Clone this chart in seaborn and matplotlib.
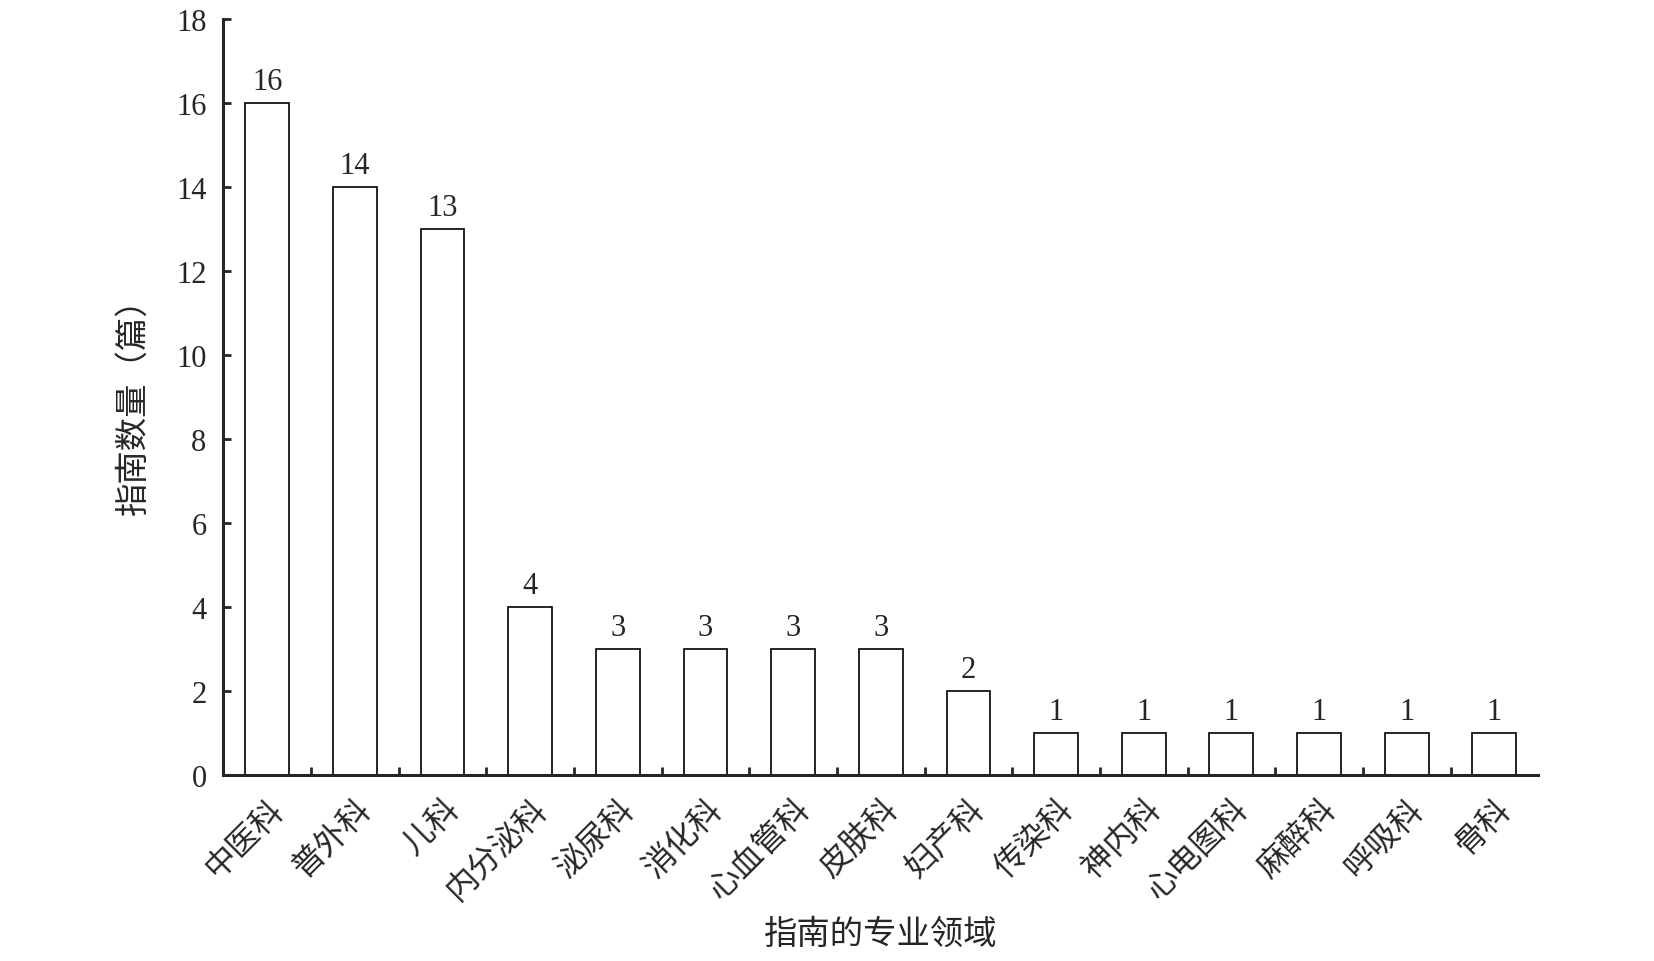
import pandas as pd
import numpy as np
import seaborn as sns
import matplotlib.pyplot as plt

departments = ['中医科', '普外科', '儿科', '内分泌科', '泌尿科', '消化科', '心血管科', '皮肤科',
               '妇产科', '传染科', '神内科', '心电图科', '麻醉科', '呼吸科', '骨科']
counts = [16, 14, 13, 4, 3, 3, 3, 3, 2, 1, 1, 1, 1, 1, 1]
y_ticks = [0, 2, 4, 6, 8, 10, 12, 14, 16, 18]

sns.set_style('ticks')
plt.rcParams['font.family'] = ['Liberation Serif', 'Noto Sans CJK SC']

df = pd.DataFrame({'department': departments, 'count': counts})

fig = plt.figure(figsize=(16.54, 9.62), dpi=100)
ax = fig.add_axes([0.135, 0.193, 0.795, 0.786])

sns.barplot(data=df, x='department', y='count', ax=ax, color='white',
            edgecolor='black', linewidth=1.2, width=0.5, saturation=1)

# value labels above each bar
for i, v in enumerate(counts):
    ax.text(i, v + 0.18, str(v), ha='center', va='bottom', fontsize=22)

ax.set_xlim(-0.5, len(departments) - 0.5)
ax.set_ylim(0, 18)
ax.set_yticks(y_ticks)
ax.tick_params(axis='y', direction='in', length=6, width=2, labelsize=22, pad=12)

# x ticks sit between the categories
ax.set_xticks(np.arange(len(departments)))
ax.set_xticklabels(departments, rotation=45, ha='right', rotation_mode='anchor',
                   fontsize=23, family='Noto Sans CJK SC')
ax.set_xticks(np.arange(0.5, len(departments) - 0.5), minor=True)
ax.tick_params(axis='x', which='major', length=0, pad=12)
ax.tick_params(axis='x', which='minor', direction='in', length=6, width=2)

ax.set_xlabel('指南的专业领域', fontsize=24, family='Noto Sans CJK SC', labelpad=8)
ax.set_ylabel('指南数量（篇）', fontsize=24, family='Noto Sans CJK SC', labelpad=18)

sns.despine(ax=ax)
ax.spines['left'].set_linewidth(2.2)
ax.spines['bottom'].set_linewidth(2.2)

fig.savefig('out.png', dpi=100, facecolor='white')
